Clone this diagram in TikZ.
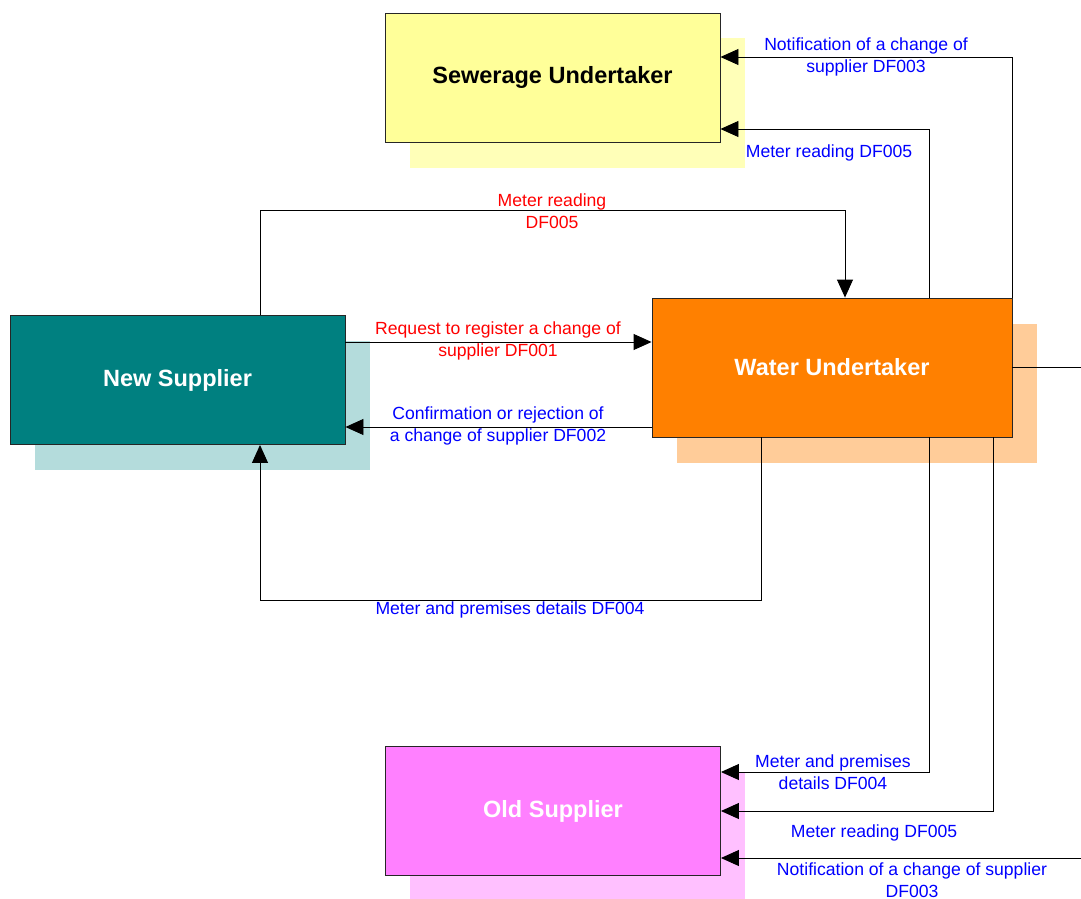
\documentclass[tikz,border=0pt]{standalone}
\usepackage{fontspec}
\setmainfont{Liberation Sans}
\usetikzlibrary{arrows.meta}
\definecolor{sewY}{HTML}{FFFF99}
\definecolor{sewS}{HTML}{FFFFB8}
\definecolor{watO}{HTML}{FF8000}
\definecolor{watS}{HTML}{FFCC99}
\definecolor{nsT}{HTML}{008080}
\definecolor{nsS}{HTML}{B4DCDC}
\definecolor{osP}{HTML}{FF80FF}
\definecolor{osS}{HTML}{FFC0FF}
\definecolor{lblue}{HTML}{0000FF}
\definecolor{lred}{HTML}{FF0000}
\tikzset{
  box/.style={draw=black!85, line width=0.9pt, minimum width=335pt, minimum height=129pt, inner sep=0pt, font=\fontsize{23.5}{27}\selectfont\bfseries},
  shadowbox/.style={inner sep=0pt, minimum width=335pt, minimum height=129pt},
  conn/.style={draw=black, line width=0.9pt},
  arr/.style={conn, -{Triangle[length=18pt,width=16pt]}},
  lbl/.style={font=\fontsize{17.6}{22}\selectfont, align=center, inner sep=0pt},
}
\begin{document}
\begin{tikzpicture}[x=1pt,y=-1pt]
\useasboundingbox (0,0) rectangle (1081,899);
% shadows
\node[shadowbox, fill=sewS] (sewsh) at (577.5,103) {};
\node[shadowbox, fill=watS, minimum width=360pt, minimum height=139pt] (watsh) at (857,393.5) {};
\node[shadowbox, fill=nsS] (nssh) at (202.5,405.5) {};
\node[shadowbox, fill=osS] (ossh) at (577.5,837) {};
% boxes
\node[box, fill=sewY, text=black] (sew) at (552.5,77.5) {Sewerage Undertaker};
\node[box, fill=watO, text=white, minimum width=360pt, minimum height=139pt] (wat) at (832,367.5) {Water Undertaker};
\node[box, fill=nsT, text=white] (ns) at (177.5,380) {New Supplier};
\node[box, fill=osP, text=white] (os) at (553,811) {Old Supplier};
% off-page ends
\coordinate (offR) at (1081,367.5);
\coordinate (offB) at (1081,858);
% connectors
\draw[arr] (wat.north east) |- ([yshift=20.5pt]sew.east);
\draw[arr] ([xshift=97pt]wat.north) |- ([yshift=-51.5pt]sew.east);
\draw[arr] ([xshift=82.5pt]ns.north) -- ++(0,-105) -| ([xshift=13pt]wat.north);
\draw[arr] ([yshift=38pt]ns.east) -- ([yshift=38pt]ns.east -| wat.west);
\draw[arr] ([yshift=-59.5pt]wat.west) -- ([yshift=-59.5pt]wat.west -| ns.east);
\draw[arr] ([xshift=-71pt]wat.south) -- ++(0,163) -| ([xshift=82.5pt]ns.south);
\draw[arr] ([xshift=97pt]wat.south) |- ([yshift=39pt]os.east);
\draw[arr] ([xshift=161pt]wat.south) |- (os.east);
\draw[conn] (wat.east) -- (offR);
\draw[arr] (offB) -- ([yshift=-47pt]os.east);
% labels
\node[lbl, text=lblue] (l1) at (866,57) {Notification of a change of\\supplier DF003};
\node[lbl, text=lblue] (l2) at (829,153) {Meter reading DF005};
\node[lbl, text=lred] (l3) at (552,211) {Meter reading\\DF005};
\node[lbl, text=lred] (l4) at (498,341) {Request to register a change of\\supplier DF001};
\node[lbl, text=lblue] (l5) at (498,426) {Confirmation or rejection of\\a change of supplier DF002};
\node[lbl, text=lblue] (l6) at (510,610) {Meter and premises details DF004};
\node[lbl, text=lblue] (l7) at (833,772) {Meter and premises\\details DF004};
\node[lbl, text=lblue] (l8) at (874,833) {Meter reading DF005};
\node[lbl, text=lblue] (l9) at (912,880) {Notification of a change of supplier\\DF003};
\end{tikzpicture}
\end{document}
